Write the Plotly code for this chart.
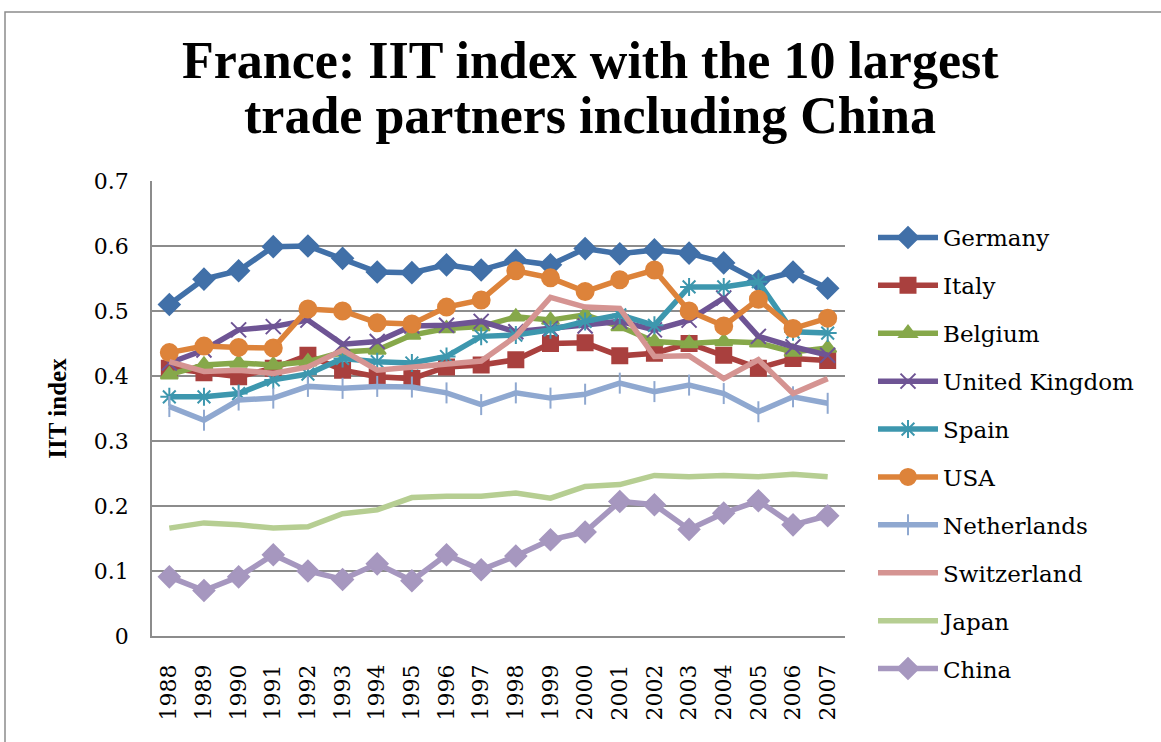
import plotly.graph_objects as go

years = [str(y) for y in range(1988, 2008)]

germany = [0.510, 0.549, 0.562, 0.599, 0.600, 0.581, 0.560, 0.559, 0.571, 0.563,
           0.578, 0.571, 0.596, 0.588, 0.594, 0.589, 0.574, 0.546, 0.560, 0.535]
italy = [0.412, 0.405, 0.399, 0.412, 0.432, 0.409, 0.399, 0.396, 0.414, 0.417,
         0.425, 0.450, 0.451, 0.431, 0.435, 0.450, 0.432, 0.412, 0.427, 0.424]
belgium = [0.402, 0.417, 0.420, 0.417, 0.422, 0.437, 0.440, 0.463, 0.473, 0.476,
           0.491, 0.486, 0.494, 0.476, 0.453, 0.450, 0.453, 0.451, 0.437, 0.443]
uk = [0.420, 0.440, 0.471, 0.476, 0.486, 0.449, 0.453, 0.477, 0.478, 0.484,
      0.468, 0.473, 0.477, 0.484, 0.471, 0.486, 0.520, 0.461, 0.445, 0.432]
spain = [0.368, 0.368, 0.373, 0.394, 0.403, 0.427, 0.422, 0.420, 0.430, 0.461,
         0.463, 0.471, 0.484, 0.494, 0.478, 0.537, 0.537, 0.545, 0.468, 0.466]
usa = [0.436, 0.446, 0.444, 0.443, 0.503, 0.500, 0.482, 0.480, 0.506, 0.517,
       0.562, 0.551, 0.530, 0.548, 0.563, 0.500, 0.477, 0.518, 0.473, 0.489]
netherlands = [0.353, 0.332, 0.363, 0.366, 0.384, 0.381, 0.384, 0.383, 0.374, 0.356,
               0.374, 0.366, 0.372, 0.389, 0.376, 0.386, 0.373, 0.345, 0.368, 0.358]
switzerland = [0.422, 0.407, 0.409, 0.404, 0.414, 0.440, 0.409, 0.413, 0.417, 0.423,
               0.461, 0.521, 0.506, 0.504, 0.430, 0.431, 0.396, 0.425, 0.373, 0.396]
japan = [0.166, 0.174, 0.171, 0.166, 0.168, 0.188, 0.194, 0.213, 0.215, 0.215,
         0.220, 0.212, 0.230, 0.233, 0.247, 0.245, 0.247, 0.245, 0.249, 0.245]
china = [0.091, 0.070, 0.091, 0.125, 0.100, 0.087, 0.111, 0.085, 0.125, 0.102,
         0.123, 0.148, 0.160, 0.207, 0.202, 0.164, 0.189, 0.208, 0.171, 0.185]

title_lines = ["France: IIT index with the 10 largest",
               "trade partners including China"]

series = [
    ("Germany", germany, "#4170A8", "diamond", 16),
    ("Italy", italy, "#A9403E", "square", 15),
    ("Belgium", belgium, "#86A84A", "triangle-up", 15),
    ("United Kingdom", uk, "#6E5494", "x-thin-open", 15),
    ("Spain", spain, "#3D97AE", "asterisk-open", 15),
    ("USA", usa, "#DD833A", "circle", 17),
    ("Netherlands", netherlands, "#8FA8D0", "line-ns-open", 15),
    ("Switzerland", switzerland, "#D59492", None, 0),
    ("Japan", japan, "#B6CE92", None, 0),
    ("China", china, "#A697BF", "diamond", 16),
]

fig = go.Figure()
for name, vals, color, sym, size in series:
    if sym:
        mode = "lines+markers"
        marker = dict(symbol=sym, size=size, color=color,
                      line=dict(color=color, width=2))
    else:
        mode = "lines"
        marker = None
    fig.add_trace(go.Scatter(
        x=years, y=vals, name=name, mode=mode,
        line=dict(color=color, width=5.5),
        marker=marker, legendgroup=name,
    ))

L, R, T, B = 152, 316, 181, 106
W, H = 1161, 742
pw = W - L - R
ph = H - T - B

def px_x(p):
    return (p - L) / pw

def px_y(p):
    return (H - B - p) / ph

fig.add_shape(type="rect", xref="paper", yref="paper",
              x0=px_x(5), x1=px_x(1175), y0=px_y(12), y1=px_y(770),
              line=dict(color="#8C8C8C", width=1.5), layer="below")

for i, line in enumerate(title_lines):
    fig.add_annotation(
        text="<b>%s</b>" % line, xref="paper", yref="paper",
        x=px_x(590), y=px_y([81, 136][i]), xanchor="center", yanchor="bottom",
        showarrow=False, yshift=-10,
        font=dict(family="Liberation Serif", size=52, color="black"),
    )

fig.update_layout(
    width=W, height=H,
    margin=dict(l=L, r=R, t=T, b=B),
    paper_bgcolor="white", plot_bgcolor="white",
    font=dict(family="DejaVu Serif", color="black"),
    showlegend=True,
    legend=dict(
        x=px_x(873), xanchor="left", y=px_y(216), yanchor="top",
        font=dict(family="DejaVu Serif", size=23, color="black"),
        itemwidth=60, tracegroupgap=15, traceorder="grouped",
        bgcolor="rgba(0,0,0,0)", maxheight=600,
    ),
    xaxis=dict(
        type="category", range=[-0.5, 19.5], showgrid=False, showline=True,
        linecolor="#8C8C8C", linewidth=1.5, ticks="",
        tickangle=-90, tickfont=dict(family="DejaVu Serif", size=22),
        ticklabelstandoff=18,
    ),
    yaxis=dict(
        range=[0, 0.7], dtick=0.1, tickformat="~g", showgrid=True,
        gridcolor="#8C8C8C", gridwidth=1.5, showline=True, linecolor="#8C8C8C",
        linewidth=1.5, ticks="",
        tickfont=dict(family="DejaVu Serif", size=22), ticklabelstandoff=17,
        zeroline=False,
        title=dict(text="<b>IIT index</b>", font=dict(family="Liberation Serif", size=25),
                   standoff=20),
    ),
)

fig.write_html("out.html", config={"displayModeBar": False},
               post_script="document.body.style.margin='0';")
